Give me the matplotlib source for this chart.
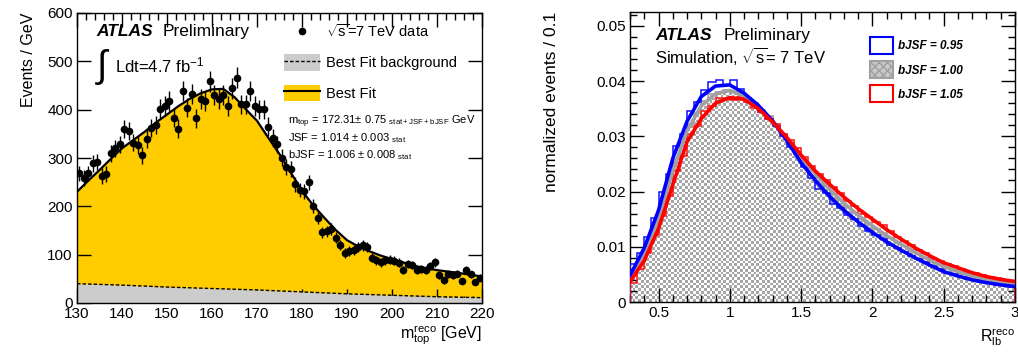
import numpy as np
import matplotlib
matplotlib.use("Agg")
import matplotlib.pyplot as plt
from matplotlib.patches import Patch
from matplotlib.lines import Line2D
from matplotlib.colors import ListedColormap
from matplotlib.ticker import MultipleLocator

plt.rcParams['font.family'] = ['Liberation Sans', 'DejaVu Sans']
plt.rcParams['mathtext.fontset'] = 'custom'
plt.rcParams['mathtext.rm'] = 'Liberation Sans'
plt.rcParams['mathtext.it'] = 'Liberation Sans:italic'

# ---- left panel: m_top fit ----
mtop_centers = np.arange(130.5, 220, 1.0)
mtop_data = [268, 259, 268, 289, 292, 263, 267, 310, 320, 328,
             360, 356, 332, 327, 306, 339, 362, 368, 402, 408,
             418, 383, 361, 438, 404, 433, 382, 422, 418, 459,
             431, 422, 431, 408, 444, 466, 411, 411, 438, 408,
             401, 401, 365, 341, 328, 301, 282, 277, 246, 234,
             231, 250, 201, 176, 146, 148, 153, 135, 120, 103,
             107, 109, 116, 119, 116, 94, 88, 84, 88, 90,
             87, 83, 69, 81, 79, 68, 70, 68, 77, 84,
             58, 47, 59, 57, 61, 45, 69, 59, 44, 52]

fit_x = [130, 132.5, 135, 137.5, 140, 142.5, 145, 147.5, 150, 152.5,
         155, 157.5, 160, 162.5, 165, 167.5, 170, 172.5, 175, 177.5,
         180, 182.5, 185, 187.5, 190, 192.5, 195, 197.5, 200, 202.5,
         205, 207.5, 210, 212.5, 215, 217.5, 220]
fit_total = [230, 253, 275, 298, 320, 337, 354, 373, 390, 407,
             422, 434, 442, 443, 426, 401, 377, 342, 308, 270,
             232, 202, 176, 151, 130, 117, 107, 98, 91, 84,
             77, 72, 68, 65, 62, 58, 55]

bkg_x = [130, 140, 150, 160, 170, 180, 190, 200, 210, 220]
bkg_y = [40, 37, 33, 30, 27, 23, 19, 16, 13, 11]

# ---- right panel: R_lb templates ----
r_edges = np.linspace(0.3, 3.0, 55)
hist_095 = [0.0068, 0.0088, 0.0118, 0.0152, 0.0200, 0.0232, 0.0283, 0.0305, 0.0345, 0.0362,
            0.0384, 0.0399, 0.0401, 0.0392, 0.0401, 0.0386, 0.0370, 0.0358, 0.0344, 0.0332,
            0.0318, 0.0300, 0.0281, 0.0268, 0.0245, 0.0225, 0.0205, 0.0198, 0.0178, 0.0170,
            0.0158, 0.0150, 0.0138, 0.0128, 0.0122, 0.0114, 0.0104, 0.0098, 0.0090, 0.0084,
            0.0078, 0.0072, 0.0066, 0.0060, 0.0052, 0.0051, 0.0046, 0.0042, 0.0039, 0.0037,
            0.0034, 0.0031, 0.0030, 0.0028]
hist_100 = [0.0050, 0.0074, 0.0104, 0.0138, 0.0178, 0.0216, 0.0258, 0.0290, 0.0322, 0.0343,
            0.0364, 0.0377, 0.0381, 0.0384, 0.0380, 0.0377, 0.0370, 0.0360, 0.0348, 0.0336,
            0.0320, 0.0305, 0.0288, 0.0272, 0.0254, 0.0238, 0.0224, 0.0210, 0.0196, 0.0185,
            0.0172, 0.0162, 0.0150, 0.0142, 0.0133, 0.0125, 0.0116, 0.0108, 0.0101, 0.0094,
            0.0086, 0.0080, 0.0073, 0.0068, 0.0062, 0.0058, 0.0054, 0.0050, 0.0046, 0.0043,
            0.0040, 0.0037, 0.0035, 0.0033]
hist_105 = [0.0034, 0.0060, 0.0088, 0.0122, 0.0155, 0.0192, 0.0238, 0.0265, 0.0305, 0.0318,
            0.0345, 0.0354, 0.0369, 0.0370, 0.0366, 0.0372, 0.0362, 0.0352, 0.0344, 0.0332,
            0.0322, 0.0304, 0.0293, 0.0278, 0.0262, 0.0246, 0.0232, 0.0221, 0.0208, 0.0198,
            0.0182, 0.0174, 0.0160, 0.0153, 0.0144, 0.0139, 0.0128, 0.0118, 0.0111, 0.0103,
            0.0094, 0.0088, 0.0078, 0.0075, 0.0068, 0.0066, 0.0060, 0.0055, 0.0053, 0.0048,
            0.0046, 0.0043, 0.0040, 0.0038]

curve_x = [0.3, 0.4, 0.5, 0.6, 0.7, 0.8, 0.9, 1.0, 1.1, 1.2,
           1.3, 1.4, 1.5, 1.6, 1.7, 1.8, 1.9, 2.0, 2.1, 2.2,
           2.3, 2.4, 2.5, 2.6, 2.7, 2.8, 2.9, 3.0]
curve_095 = [0.0048, 0.0098, 0.0166, 0.0260, 0.0327, 0.0372, 0.0391, 0.0393, 0.0378, 0.0356,
             0.0328, 0.0292, 0.0252, 0.0220, 0.0191, 0.0166, 0.0145, 0.0126, 0.0109, 0.0094,
             0.0080, 0.0067, 0.0055, 0.0047, 0.0040, 0.0035, 0.0031, 0.0028]
curve_100 = [0.0043, 0.0088, 0.0150, 0.0237, 0.0310, 0.0355, 0.0377, 0.0383, 0.0373, 0.0354,
             0.0327, 0.0296, 0.0262, 0.0232, 0.0204, 0.0179, 0.0157, 0.0138, 0.0120, 0.0105,
             0.0090, 0.0076, 0.0064, 0.0055, 0.0047, 0.0041, 0.0036, 0.0033]
curve_105 = [0.0037, 0.0075, 0.0133, 0.0212, 0.0290, 0.0332, 0.0360, 0.0370, 0.0367, 0.0350,
             0.0326, 0.0298, 0.0266, 0.0237, 0.0213, 0.0190, 0.0169, 0.0150, 0.0131, 0.0114,
             0.0098, 0.0084, 0.0071, 0.0062, 0.0053, 0.0046, 0.0041, 0.0037]

YELLOW = '#ffcc00'
GREY = '#cccccc'
FS = 11
FS_HEAD = 12.5

fig = plt.figure(figsize=(10.18, 3.56), dpi=100)
ax1 = fig.add_axes([77/1018, 1-303/356, 405/1018, 290/356])
ax2 = fig.add_axes([630/1018, 1-302/356, 385/1018, 290/356])


def root_style(ax):
    ax.tick_params(which='both', direction='in', top=True, right=True,
                   labelsize=FS, pad=3, width=1)
    ax.tick_params(which='major', length=10)
    ax.tick_params(which='minor', length=5)
    for s in ax.spines.values():
        s.set_linewidth(1.0)


# left
ax1.fill_between(fit_x, 0, fit_total, color=YELLOW, lw=0, zorder=1)
ax1.fill_between(bkg_x, 0, bkg_y, color=GREY, lw=0, zorder=2)
ax1.plot(bkg_x, bkg_y, 'k--', lw=1, dashes=(2.5, 1.5), zorder=3)
ax1.plot(fit_x, fit_total, 'k-', lw=1.6, zorder=4)
ax1.errorbar(mtop_centers, mtop_data, yerr=np.sqrt(mtop_data), fmt='o', color='k',
             ms=4.5, elinewidth=1, capsize=0, zorder=5)
ax1.set_xlim(130, 220)
ax1.set_ylim(0, 600)
ax1.xaxis.set_major_locator(MultipleLocator(10))
ax1.xaxis.set_minor_locator(MultipleLocator(2))
ax1.yaxis.set_major_locator(MultipleLocator(100))
root_style(ax1)
ax1.set_ylabel('Events / GeV', fontsize=11.5, loc='top')
ax1.yaxis.set_label_coords(-0.1, 1.0)
ax1.set_xlabel(r'm$_{\rm top}^{\rm reco}$ [GeV]', fontsize=11.5, loc='right')
ax1.xaxis.set_label_coords(1.0, -0.07)

ax1.text(0.049, 0.92, 'ATLAS', transform=ax1.transAxes, fontsize=FS_HEAD,
         weight='bold', style='italic')
ax1.text(0.212, 0.92, 'Preliminary', transform=ax1.transAxes, fontsize=FS_HEAD)
ax1.text(0.045, 0.78, r'$\int$', transform=ax1.transAxes, fontsize=27)
ax1.text(0.093, 0.795, r'Ldt=4.7 fb$^{-1}$', transform=ax1.transAxes, fontsize=12)

h_data = Line2D([], [], marker='o', color='k', ls='none', ms=4.5)
h_bkg = (Patch(facecolor=GREY, edgecolor='none'),
         Line2D([], [], color='k', ls='--', lw=1, dashes=(2.5, 1.5)))
h_fit = (Patch(facecolor=YELLOW, edgecolor='none'), Line2D([], [], color='k', lw=1.5))
ax1.legend([h_data, h_bkg, h_fit],
           [r'$\sqrt{\rm s}$=7 TeV data', 'Best Fit background', 'Best Fit'],
           loc='upper left', bbox_to_anchor=(0.497, 0.985), frameon=False, fontsize=10.5,
           handlelength=2.45, handleheight=1.35, labelspacing=0.95, handletextpad=0.45,
           borderaxespad=0)
fs_small = 8
ax1.text(0.52, 0.615, r'm$_{\rm top}$ = 172.31$\pm$ 0.75 $_{\rm stat+JSF+bJSF}$ GeV',
         transform=ax1.transAxes, fontsize=fs_small)
ax1.text(0.52, 0.557, r'JSF = 1.014 $\pm$ 0.003 $_{\rm stat}$',
         transform=ax1.transAxes, fontsize=fs_small)
ax1.text(0.52, 0.5, r'bJSF = 1.006 $\pm$ 0.008 $_{\rm stat}$',
         transform=ax1.transAxes, fontsize=fs_small)

# right
gpatch = ax2.stairs(hist_100, r_edges, fill=True, facecolor='none', edgecolor='none', zorder=1)
ny, nx = 105, 140
checker = (np.add.outer(np.arange(ny), np.arange(nx)) % 2).astype(float)
im = ax2.imshow(checker, cmap=ListedColormap(['#ffffff', '#a6a6a6']), extent=(0.3, 3.0, 0, 0.0525),
                aspect='auto', interpolation='nearest', zorder=1)
im.set_clip_path(gpatch)
ax2.stairs(hist_100, r_edges, color='#a0a0a0', lw=1.2, zorder=2)
ax2.stairs(hist_095, r_edges, color='#1010ff', lw=1.1, zorder=3)
ax2.stairs(hist_105, r_edges, color='#ff1010', lw=1.1, zorder=3)
ax2.plot(curve_x, curve_100, color='#a0a0a0', lw=2.6, zorder=4)
ax2.plot(curve_x, curve_095, color='#0000ff', lw=2.6, zorder=5)
ax2.plot(curve_x, curve_105, color='#ff0000', lw=2.6, zorder=5)
ax2.set_xlim(0.3, 3.0)
ax2.set_ylim(0, 0.0525)
ax2.xaxis.set_major_locator(MultipleLocator(0.5))
ax2.xaxis.set_minor_locator(MultipleLocator(0.1))
ax2.yaxis.set_major_locator(MultipleLocator(0.01))
ax2.yaxis.set_minor_locator(MultipleLocator(0.002))
root_style(ax2)
ax2.set_yticks([0, 0.01, 0.02, 0.03, 0.04, 0.05])
ax2.set_yticklabels(['0', '0.01', '0.02', '0.03', '0.04', '0.05'])
ax2.set_xticks([0.5, 1, 1.5, 2, 2.5, 3])
ax2.set_xticklabels(['0.5', '1', '1.5', '2', '2.5', '3'])
ax2.set_ylabel('normalized events / 0.1', fontsize=12.5, loc='top')
ax2.yaxis.set_label_coords(-0.185, 1.0)
ax2.set_xlabel(r'R$_{\rm lb}^{\rm reco}$', fontsize=11.5, loc='right')
ax2.xaxis.set_label_coords(1.0, -0.085)

ax2.text(0.065, 0.903, 'ATLAS', transform=ax2.transAxes, fontsize=FS_HEAD,
         weight='bold', style='italic')
ax2.text(0.242, 0.903, 'Preliminary', transform=ax2.transAxes, fontsize=FS_HEAD)
ax2.text(0.065, 0.824, r'Simulation, $\sqrt{\rm s}$= 7 TeV', transform=ax2.transAxes,
         fontsize=12)

leg_handles = [Patch(facecolor='white', edgecolor='#0000ff', lw=1.5),
               Patch(facecolor='#c8c8c8', edgecolor='#a0a0a0', lw=1.5, hatch='xxxx'),
               Patch(facecolor='white', edgecolor='#ff0000', lw=1.5)]
ax2.legend(leg_handles, ['bJSF = 0.95', 'bJSF = 1.00', 'bJSF = 1.05'],
           loc='upper left', bbox_to_anchor=(0.61, 0.93), frameon=False,
           prop={'size': 8.5, 'weight': 'bold', 'style': 'italic'},
           handlelength=1.95, handleheight=1.85, labelspacing=0.6, handletextpad=0.45,
           borderaxespad=0)

fig.savefig('out.png', dpi=100)
